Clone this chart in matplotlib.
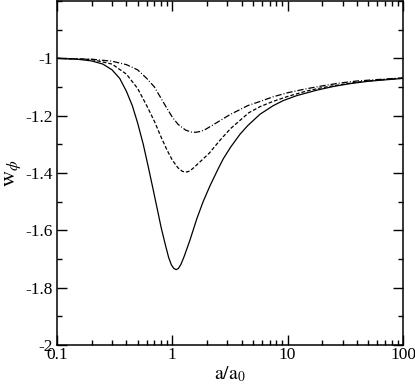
import matplotlib
matplotlib.use("Agg")
import matplotlib.pyplot as plt
from matplotlib.ticker import LogLocator, MultipleLocator, FixedLocator, FixedFormatter, NullFormatter

plt.rcParams["font.family"] = ["Liberation Serif", "DejaVu Serif"]
plt.rcParams["mathtext.fontset"] = "stix"

# solid curve
x_solid = [0.10, 0.15, 0.20, 0.25, 0.30, 0.35, 0.40, 0.45, 0.50, 0.56, 0.62, 0.68,
           0.74, 0.80, 0.87, 0.93, 0.98, 1.03, 1.08, 1.13, 1.19, 1.27, 1.42, 1.63,
           1.85, 2.12, 2.5, 2.77, 3.2, 3.86, 4.5, 5.76, 7.5, 9.2, 12, 17.9, 25, 35,
           50, 70, 100]
y_solid = [-1.000, -1.003, -1.009, -1.02, -1.04, -1.07, -1.115, -1.165, -1.225,
           -1.30, -1.38, -1.455, -1.525, -1.59, -1.65, -1.695, -1.72, -1.733, -1.737,
           -1.733, -1.718, -1.69, -1.635, -1.56, -1.50, -1.445, -1.385, -1.35, -1.31,
           -1.265, -1.235, -1.195, -1.165, -1.147, -1.13, -1.111, -1.098, -1.088,
           -1.08, -1.075, -1.07]

# dashed curve
x_dash = [0.10, 0.20, 0.30, 0.40, 0.50, 0.60, 0.70, 0.80, 0.90, 1.00, 1.12, 1.22,
          1.31, 1.40, 1.50, 1.75, 2.1, 2.6, 3.2, 3.9, 4.6, 5.8, 7.5, 10, 14.6, 20,
          28.5, 40, 60, 100]
y_dash = [-1.000, -1.004, -1.02, -1.055, -1.105, -1.165, -1.22, -1.275, -1.32,
          -1.355, -1.382, -1.394, -1.397, -1.394, -1.385, -1.36, -1.33, -1.285,
          -1.245, -1.215, -1.19, -1.168, -1.15, -1.133, -1.114, -1.102, -1.092,
          -1.083, -1.076, -1.069]

# dash-dot curve
x_dd = [0.10, 0.2, 0.3, 0.4, 0.5, 0.6, 0.7, 0.8, 0.9, 1.0, 1.12, 1.3, 1.45, 1.6,
        1.75, 1.9, 2.3, 2.6, 3.2, 3.9, 4.5, 5.8, 7.5, 10, 14.6, 20, 28.5, 40, 60, 100]
y_dd = [-1.000, -1.003, -1.01, -1.022, -1.04, -1.07, -1.10, -1.14, -1.175, -1.205,
        -1.23, -1.25, -1.257, -1.258, -1.255, -1.25, -1.23, -1.217, -1.195, -1.178,
        -1.165, -1.15, -1.134, -1.12, -1.106, -1.096, -1.086, -1.079, -1.074, -1.068]

y_ticks = [-2, -1.8, -1.6, -1.4, -1.2, -1]
y_labels = ["-2", "-1.8", "-1.6", "-1.4", "-1.2", "-1"]
x_ticks = [0.1, 1, 10, 100]
x_labels = ["0.1", "1", "10", "100"]

fig = plt.figure(figsize=(4.15, 3.90), dpi=100)
ax = fig.add_axes([0.1373, 0.1154, 0.8337, 0.882])

ax.plot(x_solid, y_solid, color="black", lw=0.9, ls="-")
ax.plot(x_dash, y_dash, color="black", lw=0.9, ls=(0, (3.0, 1.6)))
ax.plot(x_dd, y_dd, color="black", lw=0.9, ls=(0, (5.0, 1.6, 0.8, 1.6)))

ax.set_xscale("log")
ax.set_xlim(0.1, 100)
ax.set_ylim(-2, -0.8)

ax.xaxis.set_major_locator(FixedLocator(x_ticks))
ax.xaxis.set_major_formatter(FixedFormatter(x_labels))
ax.xaxis.set_minor_locator(LogLocator(base=10, subs=range(2, 10), numticks=20))
ax.xaxis.set_minor_formatter(NullFormatter())
ax.yaxis.set_major_locator(FixedLocator(y_ticks))
ax.yaxis.set_major_formatter(FixedFormatter(y_labels))
ax.yaxis.set_minor_locator(MultipleLocator(0.1))

ax.tick_params(which="both", direction="in", top=True, right=True, width=1.0,
               labelsize=12.5, colors="black")
ax.tick_params(which="major", length=7)
ax.tick_params(which="minor", length=3.5)
ax.tick_params(axis="y", pad=3)
ax.tick_params(axis="x", pad=1.5)
for s in ax.spines.values():
    s.set_linewidth(1.1)

ax.set_xlabel(r"$\mathrm{a/a_0}$", fontsize=14, labelpad=1)
ax.set_ylabel(r"$\mathrm{w}_\phi$", fontsize=16, labelpad=2)

fig.savefig("out.png", dpi=100)
